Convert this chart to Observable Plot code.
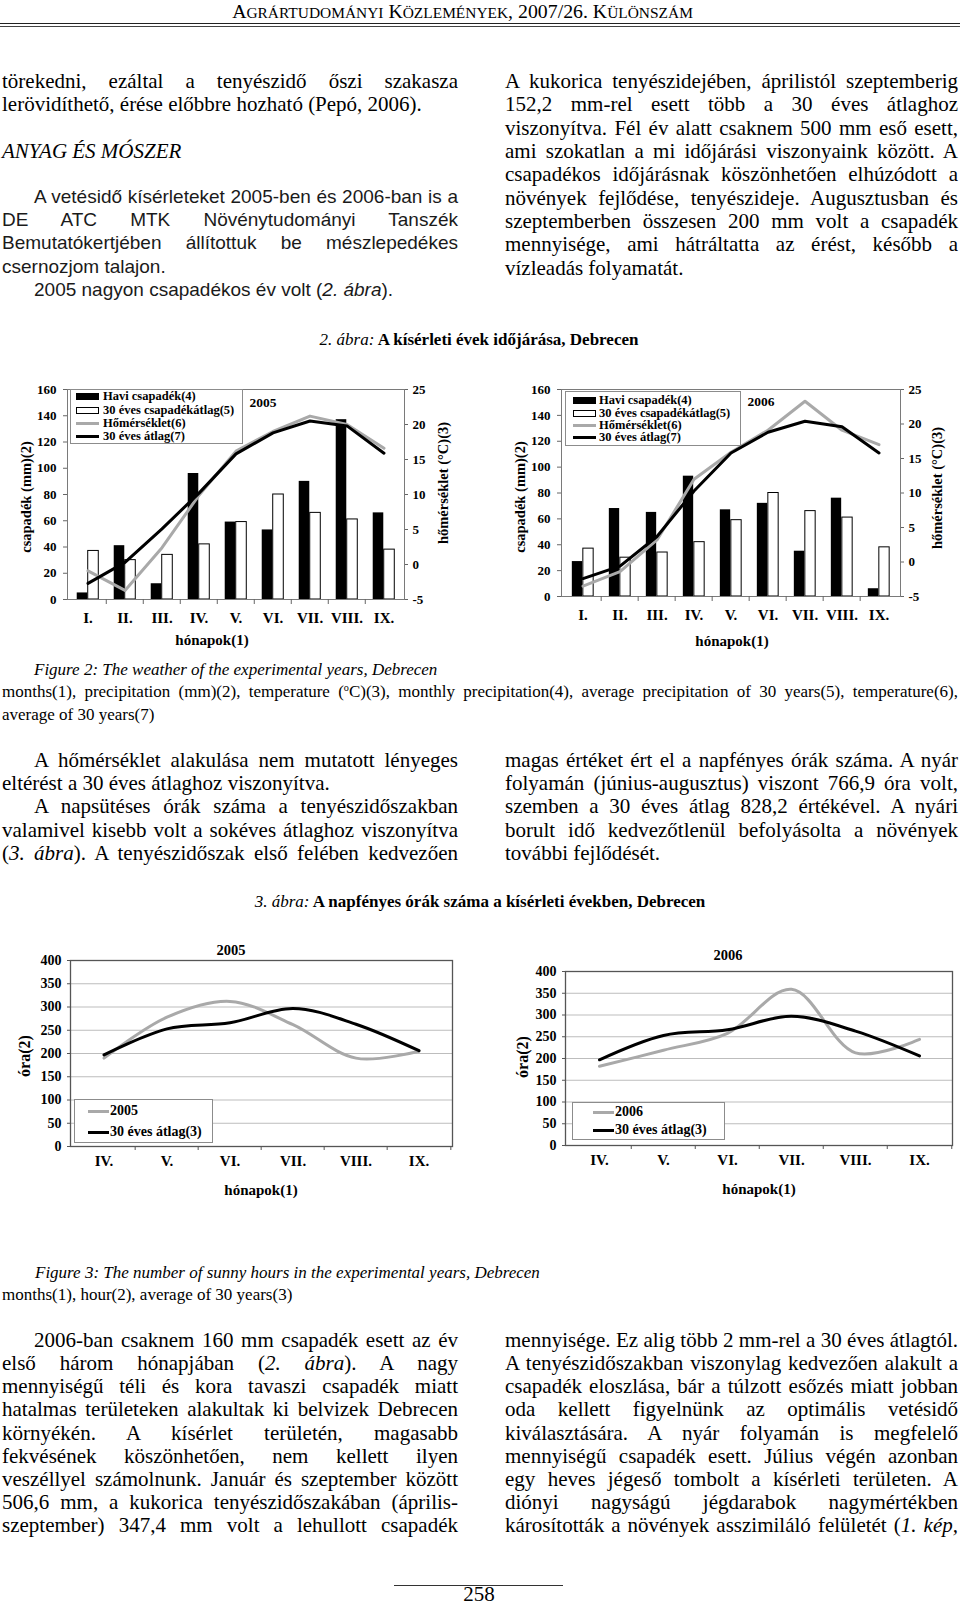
<!DOCTYPE html>
<html><head><meta charset="utf-8">
<script src="https://cdn.jsdelivr.net/npm/d3@7"></script>
<script src="https://cdn.jsdelivr.net/npm/@observablehq/plot@0.6"></script>
<style>
html,body{margin:0;padding:0;background:#fff;}
body{width:960px;height:1605px;position:relative;overflow:hidden;font-family:"Liberation Serif","Times New Roman",serif;color:#000;}
.ln{position:absolute;white-space:pre;line-height:24px;font-size:21px;}
.sans{font-family:"Liberation Sans",Arial,sans-serif;font-size:19px;color:#1a1a1a;}
.cap{font-size:17px;}
.ct{position:absolute;white-space:pre;font-family:"Liberation Serif",serif;font-weight:bold;line-height:1;}
.rot{position:absolute;white-space:pre;font-family:"Liberation Serif",serif;font-weight:bold;transform:translate(-50%,-50%) rotate(-90deg);line-height:1;}
.box{position:absolute;border:1px solid #8c8c8c;background:#fff;box-sizing:border-box;}
.sw{position:absolute;box-sizing:border-box;}
sup{font-size:0.6em;vertical-align:0.6em;line-height:0;}
</style></head><body>
<script>
// ---------- data ----------
const months9 = ["I.","II.","III.","IV.","V.","VI.","VII.","VIII.","IX."];
const rainAvg   = [37, 30, 34, 42, 59, 80, 66, 61, 38];
const rain2005  = [5, 41, 12, 96, 59, 53, 90, 137, 66];
const temp2005  = [-0.9, -3.7, 2.4, 9.9, 16.2, 19.0, 21.2, 20.0, 16.6];
const tAvg2005  = [-2.7, 0.3, 5.1, 10.2, 15.8, 18.8, 20.5, 19.8, 15.9];
const rain2006  = [27, 68, 65, 93, 67, 72, 35, 76, 6];
const temp2006  = [-3.5, -1.4, 3.2, 12.0, 15.9, 19.1, 23.3, 19.1, 17.0];
const tAvg2006  = [-2.4, -0.6, 3.7, 10.3, 15.8, 18.8, 20.4, 19.6, 15.8];
const rainTicks = [0, 20, 40, 60, 80, 100, 120, 140, 160];
const tempTicks = [-5, 0, 5, 10, 15, 20, 25];

const months6 = ["IV.","V.","VI.","VII.","VIII.","IX."];
const sunAvg  = [197, 253, 266, 297, 263, 206];
const sun2005 = [190, 278, 312, 262, 190, 205];
const sun2006 = [182, 219, 258, 359, 213, 244];
const sunTicks = [0, 50, 100, 150, 200, 250, 300, 350, 400];

const legend2Labels = ["Havi csapadék(4)", "30 éves csapadékátlag(5)", "Hőmérséklet(6)", "30 éves átlag(7)"];
const legend3Avg = "30 éves átlag(3)";

// ---------- helpers ----------
function put(el, left, top) {
  el.style.position = "absolute"; el.style.left = left + "px"; el.style.top = top + "px";
  document.body.appendChild(el); return el;
}
function line(html, x, cy, w, justify, cls) {
  const d = document.createElement("div");
  d.className = "ln " + (cls || "");
  d.innerHTML = html;
  put(d, x, cy - 13);
  if (justify) {
    const nat = d.getBoundingClientRect().width;
    const spaces = (d.textContent.match(/ /g) || []).length;
    if (spaces) d.style.wordSpacing = ((w - nat) / spaces) + "px";
  }
  return d;
}
function block(lines, x, cy0, w, step, cls) {
  lines.forEach((l, i) => {
    const [html, just, indent] = l;
    const ix = indent ? x + indent : x;
    line(html, ix, cy0 + i * step, w - (ix - x), just, cls);
  });
}
function ctext(html, cx, cy, size, anchor) {
  const d = document.createElement("div");
  d.className = "ct"; d.innerHTML = html; d.style.fontSize = size + "px";
  put(d, cx, cy);
  const r = d.getBoundingClientRect();
  d.style.left = (anchor === "start" ? cx : cx - r.width / 2) + "px";
  d.style.top = (cy - r.height / 2) + "px";
  return d;
}
function rot(text, cx, cy, size) {
  const d = document.createElement("div");
  d.className = "rot"; d.textContent = text; d.style.fontSize = size + "px";
  return put(d, cx, cy);
}
function rect(x, y, w, h, css) {
  const d = document.createElement("div"); d.className = "sw";
  d.style.width = w + "px"; d.style.height = h + "px"; Object.assign(d.style, css);
  return put(d, x, y);
}

// ---------- header (small caps built by hand) ----------
{
  const src = "Agrártudományi Közlemények, 2007/26. Különszám";
  const h = document.createElement("div");
  h.style.cssText = "white-space:pre;line-height:22px;";
  const big = 18, small = 14;
  for (const ch of src) {
    const s = document.createElement("span");
    const lower = ch !== ch.toUpperCase();
    s.textContent = ch.toUpperCase();
    s.style.fontSize = (lower ? small : big) + "px";
    h.appendChild(s);
  }
  put(h, 232, 0);
  const w = h.getBoundingClientRect().width;
  const f = 461 / w;
  h.querySelectorAll("span").forEach(s => s.style.fontSize = (parseFloat(s.style.fontSize) * f) + "px");
  const w2 = h.getBoundingClientRect().width;
  h.style.left = (462.5 - w2 / 2) + "px";
  rect(0, 22.5, 960, 1.6, {background: "#222"});
  rect(0, 25.6, 960, 0.9, {background: "#444"});
}

// ---------- body text (top) ----------
const LS = 23.35;
block([
  ["törekedni, ezáltal a tenyészidő őszi szakasza", true],
  ["lerövidíthető, érése előbbre hozható (Pepó, 2006).", false]
], 2, 82, 456, LS);
line("<i>ANYAG ÉS MÓSZER</i>", 2, 151.5, 456, false);
block([
  ["A vetésidő kísérleteket 2005-ben és 2006-ban is a", true, 32],
  ["DE ATC MTK Növénytudományi Tanszék", true],
  ["Bemutatókertjében állítottuk be mészlepedékes", true],
  ["csernozjom talajon.", false],
  ["2005 nagyon csapadékos év volt (<i>2. ábra</i>).", false, 32]
], 2, 197.5, 456, LS, "sans");
block([
  ["A kukorica tenyészidejében, áprilistól szeptemberig", true],
  ["152,2 mm-rel esett több a 30 éves átlaghoz", true],
  ["viszonyítva. Fél év alatt csaknem 500 mm eső esett,", true],
  ["ami szokatlan a mi időjárási viszonyaink között. A", true],
  ["csapadékos időjárásnak köszönhetően elhúzódott a", true],
  ["növények fejlődése, tenyészideje. Augusztusban és", true],
  ["szeptemberben összesen 200 mm volt a csapadék", true],
  ["mennyisége, ami hátráltatta az érést, később a", true],
  ["vízleadás folyamatát.", false]
], 505, 82, 453, LS);

ctext("<i style='font-weight:normal'>2. ábra:</i> A kísérleti évek időjárása, Debrecen", 479, 339, 17);

// ---------- figure 2 charts ----------
function fig2(rain, temp, tAvg, o) {
  const tMin = tempTicks[0], tMax = tempTicks[tempTicks.length - 1], pMax = rainTicks[rainTicks.length - 1];
  const toP = t => (t - tMin) * pMax / (tMax - tMin);
  const fromP = p => p * (tMax - tMin) / pMax + tMin;
  const rows = months9.map((m, i) => ({m, rain: rain[i], avg: rainAvg[i], t: toP(temp[i]), ta: toP(tAvg[i])}));
  const bw = (o.width - o.mL - o.mR) / months9.length;
  const barW = 11;
  const svg = Plot.plot({
    width: o.width, height: o.height,
    marginLeft: o.mL, marginRight: o.mR, marginTop: o.mT, marginBottom: o.mB,
    style: {fontFamily: "'Liberation Serif', serif", fontWeight: "bold", fontSize: "13px", background: "transparent", color: "#000", overflow: "visible"},
    x: {type: "band", domain: months9, padding: 0, label: null},
    y: {domain: [0, pMax], label: null},
    marks: [
      Plot.barY(rows, {x: "m", y: "rain", fill: "#000", insetLeft: bw / 2 - barW, insetRight: bw / 2}),
      Plot.barY(rows, {x: "m", y: "avg", fill: "#fff", stroke: "#000", strokeWidth: 1, insetLeft: bw / 2, insetRight: bw / 2 - barW}),
      Plot.frame({stroke: "#7a7a7a"}),
      Plot.line(rows, {x: "m", y: "t", stroke: "#a9a9a9", strokeWidth: 3}),
      Plot.line(rows, {x: "m", y: "ta", stroke: "#000", strokeWidth: 3}),
      Plot.axisY(rainTicks, {anchor: "left", tickSize: 4, tickPadding: 7, stroke: "#666", label: null}),
      Plot.axisY(tempTicks.map(toP), {anchor: "right", tickSize: 3, tickPadding: 5, stroke: "#666", label: null, tickFormat: p => String(Math.round(fromP(p)))}),
      Plot.axisX({tickSize: 0, tickPadding: 13, fontSize: 15, label: null}),
      Plot.ruleX(months9.slice(1), {x: d => d, y1: 0, y2: 0, dx: -bw / 2, insetTop: 5, stroke: "#666"})
    ]
  });
  put(svg, o.left, o.top);
}
fig2(rain2005, temp2005, tAvg2005, {left: 0, top: 370, width: 460, height: 280, mL: 67, mR: 56, mT: 19, mB: 51});
fig2(rain2006, temp2006, tAvg2006, {left: 490, top: 370, width: 470, height: 280, mL: 71, mR: 60, mT: 19, mB: 54});

function legend2(bx, by, bw, bh, swx, tx, cys, year, yx, yy) {
  const b = document.createElement("div"); b.className = "box";
  b.style.width = bw + "px"; b.style.height = bh + "px"; put(b, bx, by);
  rect(swx, cys[0] - 3.5, 23, 7, {background: "#000"});
  rect(swx, cys[1] - 3.5, 23, 7, {background: "#fff", border: "1px solid #000"});
  rect(swx, cys[2] - 1.5, 23, 3, {background: "#a9a9a9"});
  rect(swx, cys[3] - 1.5, 23, 3, {background: "#000"});
  legend2Labels.forEach((t, i) => ctext(t, tx, cys[i], 12.5, "start"));
  ctext(year, yx, yy, 13.5);
}
legend2(70, 389, 173, 55, 76, 103, [396, 410, 423, 436.5], "2005", 263, 403);
legend2(565, 391, 176, 55, 573, 599, [400, 413, 425.5, 437.5], "2006", 761, 402);

rot("csapadék (mm)(2)", 26, 497, 14.5);
rot("hőmérséklet (°C)(3)", 443, 483, 14.5);
ctext("hónapok(1)", 212, 640, 15);
rot("csapadék (mm)(2)", 520, 497, 14.5);
rot("hőmérséklet (°C)(3)", 937, 488, 14.5);
ctext("hónapok(1)", 732, 641, 15);

// ---------- figure 2 captions ----------
line("<i>Figure 2: The weather of the experimental years, Debrecen</i>", 34, 670.5, 0, false, "cap");
line("months(1), precipitation (mm)(2), temperature (<sup>o</sup>C)(3), monthly precipitation(4), average precipitation of 30 years(5), temperature(6),", 2, 693, 956, true, "cap");
line("average of 30 years(7)", 2, 715.5, 0, false, "cap");

// ---------- middle body text ----------
block([
  ["A hőmérséklet alakulása nem mutatott lényeges", true, 32],
  ["eltérést a 30 éves átlaghoz viszonyítva.", false],
  ["A napsütéses órák száma a tenyészidőszakban", true, 32],
  ["valamivel kisebb volt a sokéves átlaghoz viszonyítva", true],
  ["(<i>3. ábra</i>). A tenyészidőszak első felében kedvezően", true]
], 2, 760.5, 456, LS);
block([
  ["magas értéket ért el a napfényes órák száma. A nyár", true],
  ["folyamán (június-augusztus) viszont 766,9 óra volt,", true],
  ["szemben a 30 éves átlag 828,2 értékével. A nyári", true],
  ["borult idő kedvezőtlenül befolyásolta a növények", true],
  ["további fejlődését.", false]
], 505, 760.5, 453, LS);

ctext("<i style='font-weight:normal'>3. ábra:</i> A napfényes órák száma a kísérleti években, Debrecen", 480, 901, 17);

// ---------- figure 3 charts ----------
function fig3(series, o) {
  const rows = months6.map((m, i) => ({m, v: series[i], a: sunAvg[i]}));
  const bw = (o.width - o.mL - o.mR) / months6.length;
  const svg = Plot.plot({
    width: o.width, height: o.height,
    marginLeft: o.mL, marginRight: o.mR, marginTop: o.mT, marginBottom: o.mB,
    style: {fontFamily: "'Liberation Serif', serif", fontWeight: "bold", fontSize: "14px", background: "transparent", color: "#000", overflow: "visible"},
    x: {type: "band", domain: months6, padding: 0, label: null},
    y: {domain: [sunTicks[0], sunTicks[sunTicks.length - 1]], label: null},
    marks: [
      Plot.gridY(sunTicks.slice(1), {stroke: "#bdbdbd", strokeOpacity: 1}),
      Plot.line(rows, {x: "m", y: "v", curve: "catmull-rom", stroke: "#a9a9a9", strokeWidth: 3}),
      Plot.line(rows, {x: "m", y: "a", curve: "catmull-rom", stroke: "#000", strokeWidth: 3}),
      Plot.frame({stroke: "#555", strokeWidth: 1.3}),
      Plot.axisY(sunTicks, {anchor: "left", tickSize: 3, tickPadding: 6, stroke: "#555", label: null}),
      Plot.axisX({tickSize: 0, tickPadding: 9, fontSize: 15, label: null}),
      Plot.ruleX(months6.slice(1), {x: d => d, y1: 0, y2: 0, dx: -bw / 2, insetTop: 4, stroke: "#555"}),
      Plot.ruleX(months6.slice(-1), {x: d => d, y1: 0, y2: 0, dx: bw / 2, insetTop: 4, stroke: "#555"})
    ]
  });
  put(svg, o.left, o.top);
}
fig3(sun2005, {left: 0, top: 930, width: 470, height: 280, mL: 70, mR: 18, mT: 30, mB: 64});
fig3(sun2006, {left: 490, top: 930, width: 470, height: 280, mL: 75, mR: 8, mT: 41, mB: 65});

function legend3(bx, by, bw, bh, swx, tx, cys, year) {
  const b = document.createElement("div"); b.className = "box";
  b.style.width = bw + "px"; b.style.height = bh + "px"; put(b, bx, by);
  rect(swx, cys[0] - 1.5, 21, 3, {background: "#a9a9a9"});
  rect(swx, cys[1] - 1.5, 21, 3, {background: "#000"});
  ctext(year, tx, cys[0], 14, "start");
  ctext(legend3Avg, tx, cys[1], 14, "start");
}
legend3(74, 1099, 139, 44, 88, 110, [1111, 1132], "2005");
legend3(572, 1102, 153, 38, 593, 615, [1112, 1130], "2006");

ctext("2005", 231, 950, 14.5);
ctext("2006", 728, 955, 14.5);
rot("óra(2)", 25, 1056, 16);
rot("óra(2)", 523, 1057, 16);
ctext("hónapok(1)", 261, 1190, 15);
ctext("hónapok(1)", 759, 1189, 15);

// ---------- figure 3 captions ----------
line("<i>Figure 3: The number of sunny hours in the experimental years, Debrecen</i>", 35, 1273.5, 0, false, "cap");
line("months(1), hour(2), average of 30 years(3)", 2, 1296, 0, false, "cap");

// ---------- bottom body text ----------
const LS2 = 23.15;
block([
  ["2006-ban csaknem 160 mm csapadék esett az év", true, 32],
  ["első három hónapjában (<i>2. ábra</i>). A nagy", true],
  ["mennyiségű téli és kora tavaszi csapadék miatt", true],
  ["hatalmas területeken alakultak ki belvizek Debrecen", true],
  ["környékén. A kísérlet területén, magasabb", true],
  ["fekvésének köszönhetően, nem kellett ilyen", true],
  ["veszéllyel számolnunk. Január és szeptember között", true],
  ["506,6 mm, a kukorica tenyészidőszakában (április-", true],
  ["szeptember) 347,4 mm volt a lehullott csapadék", true]
], 2, 1341, 456, LS2);
block([
  ["mennyisége. Ez alig több 2 mm-rel a 30 éves átlagtól.", true],
  ["A tenyészidőszakban viszonylag kedvezően alakult a", true],
  ["csapadék eloszlása, bár a túlzott esőzés miatt jobban", true],
  ["oda kellett figyelnünk az optimális vetésidő", true],
  ["kiválasztására. A nyár folyamán is megfelelő", true],
  ["mennyiségű csapadék esett. Július végén azonban", true],
  ["egy heves jégeső tombolt a kísérleti területen. A", true],
  ["diónyi nagyságú jégdarabok nagymértékben", true],
  ["károsították a növények asszimiláló felületét (<i>1. kép,</i>", true]
], 505, 1341, 453, LS2);

// ---------- page footer ----------
rect(394, 1585, 169, 1, {background: "#333"});
{
  const p = document.createElement("div");
  p.style.cssText = "font-size:21px;line-height:19px;white-space:pre;";
  p.textContent = "258";
  put(p, 0, 1585);
  const w = p.getBoundingClientRect().width;
  p.style.left = (479 - w / 2) + "px";
}
</script>
</body></html>
